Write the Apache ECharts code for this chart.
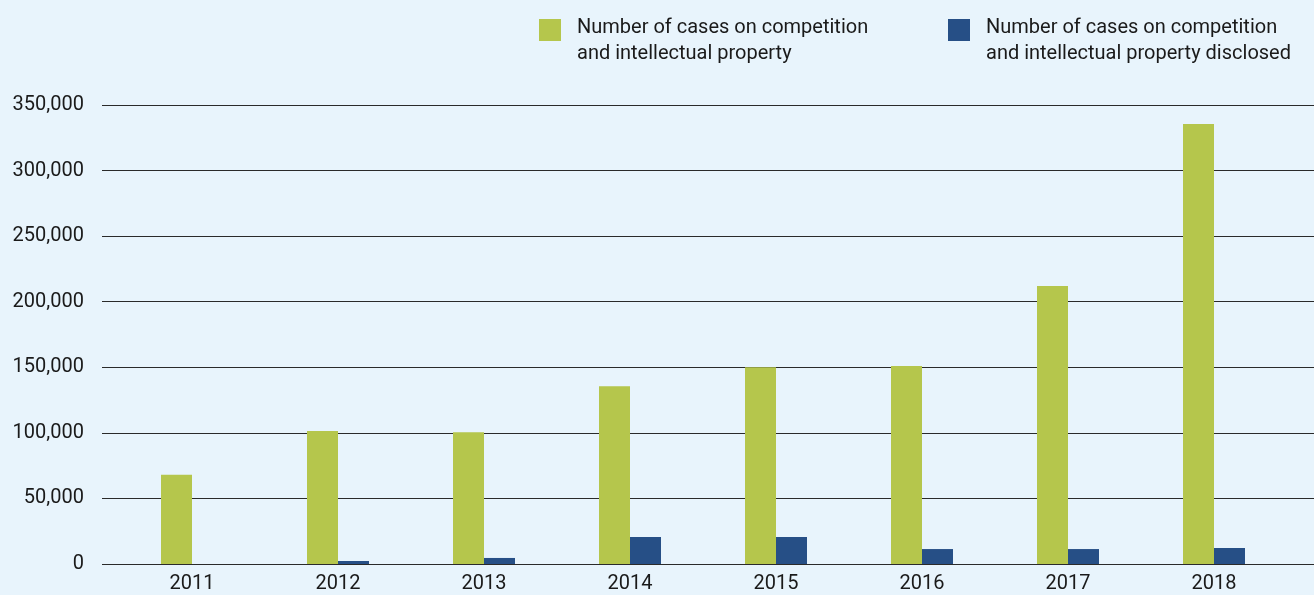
<!DOCTYPE html>
<html>
<head>
<meta charset="utf-8">
<script src="https://cdn.jsdelivr.net/npm/echarts@6/dist/echarts.min.js"></script>
<style>
  html, body { margin: 0; padding: 0; background: #e8f4fc; }
  #main { width: 1314px; height: 595px; }
</style>
</head>
<body>
<div id="main"></div>
<script>
// values
var years = ['2011', '2012', '2013', '2014', '2015', '2016', '2017', '2018'];
var casesTotal = [68000, 101500, 100500, 135500, 150000, 151000, 212000, 335500];
var casesDisclosed = [0, 2300, 4600, 20600, 20600, 11400, 11400, 12200];
var seriesNames = [
    'Number of cases on competition\nand intellectual property',
    'Number of cases on competition\nand intellectual property disclosed'
];

function fmt(v) {
    return String(v).replace(/\B(?=(\d{3})+(?!\d))/g, ',');
}

var font = 'Roboto, "Noto Sans", sans-serif';
var myChart = echarts.init(document.getElementById('main'));

// a short empty first line pushes the text down so the square sits by the first line
function legendFmt(name) {
    var p = name.split('\n');
    return '{s| }\n{t|' + p[0] + '}\n{t|' + p[1] + '}';
}
var legendText = {
    fontFamily: font, fontSize: 20, color: '#1a1a1a',
    padding: [0, 0, 0, 11],
    rich: {
        s: { fontSize: 10, lineHeight: 21 },
        t: { fontFamily: font, fontSize: 20, color: '#1a1a1a', lineHeight: 26 }
    }
};
var option = {
    backgroundColor: '#e8f4fc',
    animation: false,
    legend: [{
        left: 539, top: -1, padding: 0,
        itemWidth: 22, itemHeight: 22,
        icon: 'rect',
        data: [seriesNames[0]],
        formatter: legendFmt,
        textStyle: legendText
    }, {
        left: 948, top: -1, padding: 0,
        itemWidth: 22, itemHeight: 22,
        icon: 'rect',
        data: [seriesNames[1]],
        formatter: legendFmt,
        textStyle: legendText
    }],
    grid: [
        { left: 102, right: 0, top: 105, bottom: 31 },
        { left: 119, width: 1168, top: 105, bottom: 31 }
    ],
    xAxis: [{
        gridIndex: 0, type: 'value', show: false, min: 0, max: 1
    }, {
        gridIndex: 1,
        type: 'category',
        data: years,
        axisLine: { show: false },
        axisTick: { show: false },
        axisLabel: { fontFamily: font, fontSize: 20, color: '#1a1a1a', margin: 10 }
    }],
    yAxis: [{
        gridIndex: 0,
        type: 'value',
        min: 0, max: 350000, interval: 50000,
        axisLine: { show: false },
        axisTick: { show: false },
        axisLabel: { fontFamily: font, fontSize: 20, color: '#1a1a1a', margin: 18, formatter: fmt },
        splitLine: { lineStyle: { color: '#2a2a2a', width: 1 } }
    }, {
        gridIndex: 1,
        type: 'value',
        min: 0, max: 350000, interval: 50000,
        show: false,
        splitLine: { show: false }
    }],
    series: [{
        name: seriesNames[0],
        type: 'bar',
        xAxisIndex: 1, yAxisIndex: 1,
        data: casesTotal,
        barWidth: 31,
        barGap: '0%',
        itemStyle: { color: '#b5c64c' }
    }, {
        name: seriesNames[1],
        type: 'bar',
        xAxisIndex: 1, yAxisIndex: 1,
        data: casesDisclosed,
        barWidth: 31,
        barGap: '0%',
        itemStyle: { color: '#264f86' }
    }]
};
myChart.setOption(option);
</script>
</body>
</html>
